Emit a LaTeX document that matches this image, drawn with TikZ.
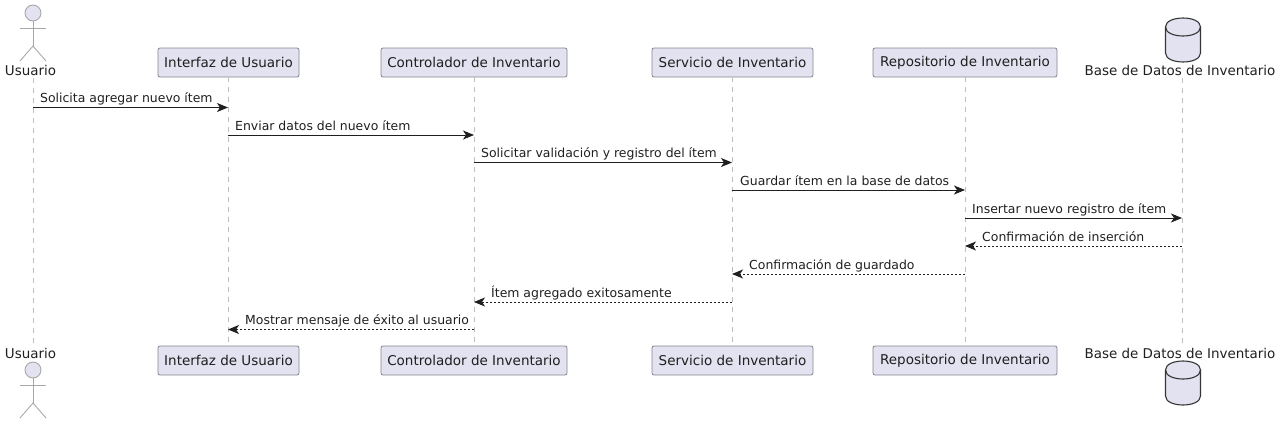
\documentclass[tikz,border=0pt]{standalone}
\usepackage{fontspec}
\setmainfont{DejaVu Sans}
\usetikzlibrary{arrows.meta}
\definecolor{pfill}{HTML}{E2E2F0}
\definecolor{pline}{HTML}{85858F}
\definecolor{ptext}{HTML}{1F1F1F}
\definecolor{lifeln}{HTML}{BEBEBE}
\definecolor{actline}{HTML}{A8A8A8}
\tikzset{
  x=1pt,y=-1pt,
  partbox/.style={draw=pline,fill=pfill,rounded corners=2pt,line width=0.8pt,minimum height=29pt,inner sep=0pt,font=\fontsize{13.5}{15}\selectfont,text=ptext,anchor=center},
  plainlabel/.style={inner sep=0pt,font=\fontsize{13.45}{15}\selectfont,text=ptext,anchor=center},
  lifeline/.style={draw=lifeln,line width=1pt,dash pattern=on 5pt off 5pt},
  msg/.style={draw=ptext,line width=0.9pt,-{Stealth[length=11pt,width=9pt,inset=3pt]}},
  reply/.style={msg,dash pattern=on 2pt off 2pt},
  msglabel/.style={inner sep=0pt,font=\fontsize{12.45}{15}\selectfont,text=ptext,anchor=base west},
  actorline/.style={draw=actline,line width=0.9pt},
  dbshape/.style={draw=ptext!90,fill=pfill,line width=1.1pt}
}
\newcommand{\stickman}[2]{%
  \draw[actorline,fill=pfill] (#1,#2) circle[radius=8];
  \draw[actorline] (#1,#2+8) -- (#1,#2+33);
  \draw[actorline] (#1-13,#2+15) -- (#1+13,#2+15);
  \draw[actorline] (#1-13,#2+48) -- (#1,#2+33) -- (#1+13,#2+48);
}
\newcommand{\dbcyl}[2]{%
  \draw[dbshape] (#1-17.5,#2+9) .. controls (#1-17.5,#2-3) and (#1+17.5,#2-3) .. (#1+17.5,#2+9)
    -- (#1+17.5,#2+35) .. controls (#1+17.5,#2+47) and (#1-17.5,#2+47) .. (#1-17.5,#2+35) -- cycle;
  \draw[dbshape,fill=none] (#1-17.5,#2+9) .. controls (#1-17.5,#2+21) and (#1+17.5,#2+21) .. (#1+17.5,#2+9);
}
\begin{document}
\begin{tikzpicture}
\useasboundingbox (0,0) rectangle (1280,423);
% top participants
\node[plainlabel] (ut) at (30.5,70) {Usuario};
\node[partbox,minimum width=141pt] (it) at (228.5,62.5) {Interfaz de Usuario};
\node[partbox,minimum width=186pt] (ct) at (474,62.5) {Controlador de Inventario};
\node[partbox,minimum width=161pt] (st) at (732.5,62.5) {Servicio de Inventario};
\node[partbox,minimum width=184pt] (rt) at (965,62.5) {Repositorio de Inventario};
\node[plainlabel] (bt) at (1180,70) {Base de Datos de Inventario};
% bottom participants
\node[plainlabel] (ub) at (30.5,353) {Usuario};
\node[partbox,minimum width=141pt] (ib) at (228.5,360.5) {Interfaz de Usuario};
\node[partbox,minimum width=186pt] (cb) at (474,360.5) {Controlador de Inventario};
\node[partbox,minimum width=161pt] (sb) at (732.5,360.5) {Servicio de Inventario};
\node[partbox,minimum width=184pt] (rb) at (965,360.5) {Repositorio de Inventario};
\node[plainlabel] (bb) at (1180,353) {Base de Datos de Inventario};
% lifeline ends
\coordinate (ul1) at (33,78); \coordinate (ul2) at (33,346);
\coordinate (bl1) at (1182,78); \coordinate (bl2) at (1182,346);
\draw[lifeline] (ul1) -- (ul2);
\draw[lifeline] (it.south -| 228,0) -- (ib.north -| 228,0);
\draw[lifeline] (ct.south) -- (cb.north);
\draw[lifeline] (st.south -| 732,0) -- (sb.north -| 732,0);
\draw[lifeline] (rt.south) -- (rb.north);
\draw[lifeline] (bl1) -- (bl2);
% actors, databases
\stickman{33}{13}
\stickman{33}{370}
\dbcyl{1183}{18}
\dbcyl{1183}{361}
% messages
\coordinate (m1a) at (33,107.5);   \coordinate (m1b) at (228,107.5);
\coordinate (m2a) at (228,135);    \coordinate (m2b) at (474,135);
\coordinate (m3a) at (474,162.5);  \coordinate (m3b) at (732,162.5);
\coordinate (m4a) at (732,190);    \coordinate (m4b) at (965,190);
\coordinate (m5a) at (965,218);    \coordinate (m5b) at (1182,218);
\coordinate (m6a) at (1182,246);   \coordinate (m6b) at (965,246);
\coordinate (m7a) at (965,274);    \coordinate (m7b) at (732,274);
\coordinate (m8a) at (732,302);    \coordinate (m8b) at (474,302);
\coordinate (m9a) at (474,329.5);  \coordinate (m9b) at (228,329.5);
\draw[msg] (m1a) -- (m1b);
\draw[msg] (m2a) -- (m2b);
\draw[msg] (m3a) -- (m3b);
\draw[msg] (m4a) -- (m4b);
\draw[msg] (m5a) -- (m5b);
\draw[reply] (m6a) -- (m6b);
\draw[reply] (m7a) -- (m7b);
\draw[reply] (m8a) -- (m8b);
\draw[reply] (m9a) -- (m9b);
\node[msglabel] (l1) at (40,102) {Solicita agregar nuevo ítem};
\node[msglabel] (l2) at (235,130) {Enviar datos del nuevo ítem};
\node[msglabel] (l3) at (481,157.5) {Solicitar validación y registro del ítem};
\node[msglabel] (l4) at (740,185) {Guardar ítem en la base de datos};
\node[msglabel] (l5) at (972,213) {Insertar nuevo registro de ítem};
\node[msglabel] (l6) at (982,241) {Confirmación de inserción};
\node[msglabel] (l7) at (749,269) {Confirmación de guardado};
\node[msglabel] (l8) at (491,297) {Ítem agregado exitosamente};
\node[msglabel] (l9) at (245,324.5) {Mostrar mensaje de éxito al usuario};
\end{tikzpicture}
\end{document}
